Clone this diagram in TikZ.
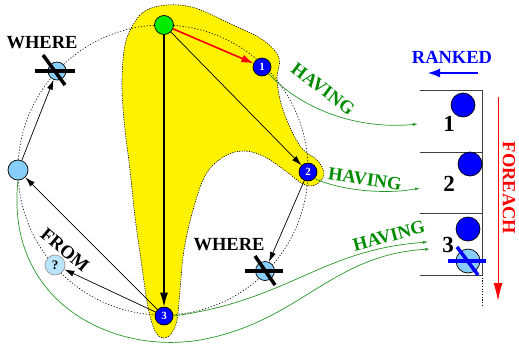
\documentclass[tikz,border=0pt]{standalone}
\usepackage{fontspec}
\setmainfont{Liberation Serif}
\usetikzlibrary{arrows.meta}
\definecolor{lblue}{RGB}{135,206,250}
\definecolor{qblue}{RGB}{185,228,250}
\definecolor{gtext}{RGB}{0,140,0}
\definecolor{gline}{RGB}{40,150,40}
\definecolor{gnode}{RGB}{0,235,0}
\begin{document}
\begin{tikzpicture}[x=1pt,y=-1pt,
  bnode/.style={circle,fill=blue,draw=black,line width=0.7pt,minimum size=18pt,inner sep=0pt,text=white,font=\bfseries\fontsize{11}{11}\selectfont},
  lbnode/.style={circle,fill=lblue,draw=black,line width=0.7pt,minimum size=19pt,inner sep=0pt},
  boxball/.style={circle,fill=blue,draw=black,line width=0.7pt,minimum size=24pt,inner sep=0pt},
  lab/.style={font=\bfseries\fontsize{18.5}{18.5}\selectfont,inner sep=0pt},
  hav/.style={lab,text=gtext},
  num/.style={font=\bfseries\fontsize{23}{23}\selectfont,inner sep=0pt},
  blk/.style={-{Latex[length=10pt,width=6pt]},line width=0.7pt},
  grn/.style={draw=gline,line width=0.7pt,-{Latex[length=5pt,width=3pt]}},
  crossbar/.style={line width=3.5pt},
  boxline/.style={draw=black!75,line width=1pt}
]
\useasboundingbox (0,0) rectangle (519,346);
% yellow blob
\path[fill=yellow,draw=black,line width=0.6pt,dash pattern=on 1.2pt off 1.2pt]
  plot[smooth cycle,tension=0.6] coordinates {(133,25) (145,11) (167,5) (195,8) (233,25) (263,40) (279,58) (277,80) (283,110) (300,146) (318,161) (324,175) (315,185) (303,184) (287,172) (265,157) (245,151) (225,156) (206,174) (193,210) (184,250) (180,290) (177,320) (171,334) (163,338) (155,331) (148,307) (142,267) (135,217) (130,170) (124,120) (122,80) (125,45)};
% dotted circle
\draw[line width=0.6pt,dash pattern=on 1.2pt off 1.8pt] (163,170) circle[radius=145pt];

% nodes
\node[circle,fill=gnode,draw=black,line width=0.7pt,minimum size=19pt,inner sep=0pt] (g) at (164,25) {};
\node[bnode] (n1) at (262,67) {1};
\node[bnode] (n2) at (308,172) {2};
\node[bnode] (n3) at (164,316) {3};
\node[lbnode,minimum size=18pt] (wtl) at (57,71) {};
\node[lbnode,minimum size=20pt] (lft) at (18,170) {};
\node[circle,fill=qblue,draw=black!40,line width=0.7pt,minimum size=20pt,inner sep=0pt,font=\bfseries\fontsize{13}{13}\selectfont] (q) at (55,265) {?};
\node[lbnode,minimum size=19pt] (wr) at (265,271) {};

% box table
\coordinate (b1) at (420,90);
\coordinate (br1) at (482,90);
\coordinate (b2) at (420,152);
\coordinate (br2) at (482,152);
\coordinate (b3) at (420,213);
\coordinate (br3) at (482,213);
\coordinate (b4) at (420,275);
\coordinate (br4) at (482,275);
\coordinate (bend) at (482,305);
\draw[boxline] (b1) -- (br1) -- (br4) -- (b4);
\draw[boxline] (b2) -- (br2);
\draw[boxline] (b3) -- (br3);
\draw[line width=0.6pt,dash pattern=on 1.2pt off 1.5pt] (br4) -- (bend);
\node[num] (t1) at (449,124) {1};
\node[num] (t2) at (449,184) {2};
\node[num] (t3) at (448,245) {3};
\node[boxball] (c1) at (463,105) {};
\node[boxball] (c2) at (470,164) {};
\node[boxball] (c3) at (468,229) {};
\node[circle,fill=lblue,draw=black,line width=0.7pt,minimum size=24pt,inner sep=0pt] (c4) at (468,261) {};
\draw[crossbar,blue] ([shift={(-20,0)}]c4.center) -- ([shift={(18,0)}]c4.center);
\draw[crossbar,blue] ([shift={(-11,-14)}]c4.center) -- ([shift={(10,14)}]c4.center);

% green connectors
\coordinate (h1) at (418,124);
\coordinate (h2) at (420,188);
\coordinate (h3) at (428,242);
\coordinate (h4) at (430,249);
\draw[grn] (n1.south east) .. controls (300,108) and (355,130) .. (h1);
\draw[grn] (n2.south east) .. controls (345,192) and (390,194) .. (h2);
\draw[grn] (n3.east) .. controls (290,300) and (320,250) .. (h3);
\draw[grn] (lft.south) .. controls (5,300) and (110,355) .. (200,340) .. controls (300,322) and (330,255) .. (h4);

% black arrows
\draw[blk,line width=1.1pt,-{Latex[length=14pt,width=8pt]}] (g) -- (n3);
\draw[blk] (g) -- (n2);
\draw[red,line width=1.6pt,-{Latex[length=12pt,width=8pt]}] (g) -- (n1);
\draw[blk] (n2) -- (wr);
\draw[blk] (n3) -- (lft);
\draw[blk] (n3) -- (q);
\draw[blk] (lft) -- (wtl);

% crosses
\draw[crossbar] ([shift={(-22,0)}]wtl.center) -- ([shift={(18,0)}]wtl.center);
\draw[crossbar] ([shift={(-14,-16)}]wtl.center) -- ([shift={(8,14)}]wtl.center);
\draw[crossbar] ([shift={(-20,0)}]wr.center) -- ([shift={(18,0)}]wr.center);
\draw[crossbar] ([shift={(-10,-15)}]wr.center) -- ([shift={(10,14)}]wr.center);

% labels
\node[lab] (lw1) at (42,43) {WHERE};
\node[lab] (lw2) at (229,245) {WHERE};
\node[lab,rotate=-40] (lfrom) at (65,250) {FROM};
\node[hav,rotate=-37] (lh1) at (323,89) {HAVING};
\node[hav,rotate=-8] (lh2) at (365,179) {HAVING};
\node[hav,rotate=15] (lh3) at (389,236) {HAVING};
\node[lab,text=blue] (lrank) at (452,57) {RANKED};
\coordinate (ra) at (478,73);
\coordinate (rb) at (428,73);
\draw[blue,line width=1.2pt,-{Latex[length=12pt,width=9pt]}] (ra) -- (rb);
\node[lab,text=red,rotate=-90] (lfor) at (509,188) {FOREACH};
\coordinate (fa) at (498,97);
\coordinate (fb) at (498,301);
\draw[red,line width=1pt,-{Latex[length=18pt,width=9pt]}] (fa) -- (fb);
\end{tikzpicture}
\end{document}
